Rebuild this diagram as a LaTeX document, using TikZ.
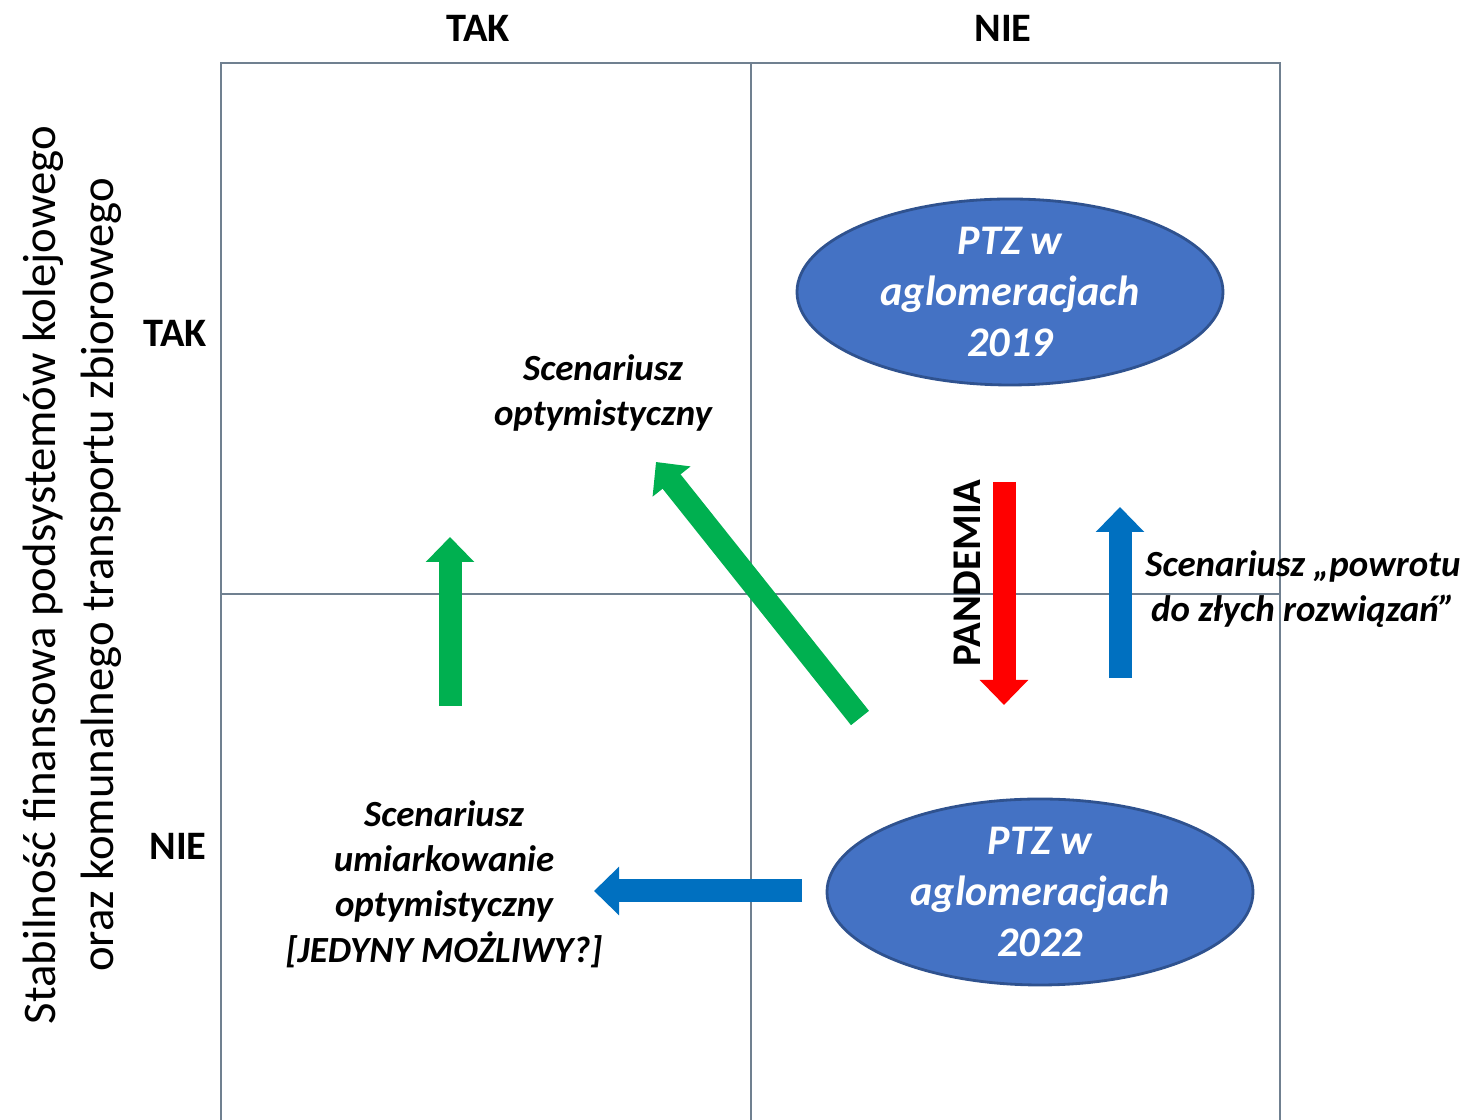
\documentclass[tikz,border=0pt]{standalone}
\usepackage{fontspec}
\setmainfont{Carlito}
\usepackage{tikz}
\usetikzlibrary{arrows.meta,shapes,positioning}
\definecolor{ptzblue}{RGB}{68,114,196}
\definecolor{ptzedge}{RGB}{47,82,143}
\definecolor{scgreen}{RGB}{0,176,80}
\definecolor{scblue}{RGB}{0,112,192}
\definecolor{scred}{RGB}{255,0,0}
\definecolor{gridgray}{RGB}{112,128,144}
\tikzstyle{gridline} = [draw=gridgray, line width=0.7pt]
\tikzstyle{ptz} = [ellipse, inner sep=0pt, minimum width=4.26cm, minimum height=1.86cm, fill=ptzblue, draw=ptzedge, thick]
\tikzstyle{ptztext} = [text=white, align=center, font=\fontsize{12}{14.5}\selectfont\bfseries\itshape]
\tikzstyle{blockarrow} = [line width=0.23cm, -{Triangle[length=0.25cm, width=0.47cm]}]
\tikzstyle{scenario} = [align=center, font=\fontsize{10.5}{12.9}\selectfont\bfseries\itshape]
\tikzstyle{answer} = [font=\fontsize{11.5}{14}\selectfont\bfseries]

\begin{document}
\begin{tikzpicture}
\useasboundingbox (0,0) rectangle (14.68,11.2);

% Grid
\draw[gridline] (2.21,0) -- (2.21,10.57) -- (12.80,10.57) -- (12.80,0);
\draw[gridline] (7.51,0) -- (7.51,10.57);
\draw[gridline] (2.21,5.26) -- (12.80,5.26);

% Axis answers
\node[answer] (coltak) at (4.78,10.92) {TAK};
\node[answer] (colnie) at (10.03,10.92) {NIE};
\node[answer] (rowtak) at (1.75,7.87) {TAK};
\node[answer] (rownie) at (1.78,2.74) {NIE};
\node[rotate=90, align=center, font=\fontsize{13.3}{16.4}\selectfont] (ylabel) at (0.72,5.45) {Stabilność finansowa podsystemów kolejowego\\oraz komunalnego transportu zbiorowego};

% PTZ states
\node[ptz] (ptz19) at (10.10,8.28) {};
\node[ptztext] at (ptz19) {PTZ w\\aglomeracjach\\2019};
\node[ptz] (ptz22) at (10.40,2.28) {};
\node[ptztext] at (ptz22) {PTZ w\\aglomeracjach\\2022};

% Scenarios
\node[scenario] (optym) at (6.03,7.27) {Scenariusz\\optymistyczny};
\node[scenario] (umiar) at (4.44,2.36) {Scenariusz\\umiarkowanie\\optymistyczny\\{}[JEDYNY MOŻLIWY?]};
\node[scenario] (powrot) at (13.03,5.31) {Scenariusz „powrotu\\do złych rozwiązań”};

% Arrows
\coordinate (gtail) at (4.50,4.14);
\coordinate (ghead) at (4.50,5.83);
\draw[blockarrow, scgreen] (gtail) -- (ghead);

\coordinate (dtail) at (8.60,4.02);
\coordinate (dhead) at (6.56,6.58);
\draw[blockarrow, scgreen] (dtail) -- (dhead);

\coordinate (rtail) at (10.04,6.38);
\coordinate (rhead) at (10.04,4.15);
\draw[blockarrow, scred] (rtail) -- (rhead);
\node[rotate=90, answer, font=\fontsize{11.6}{14}\selectfont\bfseries] (pandemia) at (9.67,5.47) {PANDEMIA};

\coordinate (btail) at (11.20,4.42);
\coordinate (bhead) at (11.20,6.13);
\draw[blockarrow, scblue] (btail) -- (bhead);

\coordinate (ltail) at (8.02,2.29);
\coordinate (lhead) at (5.94,2.29);
\draw[blockarrow, scblue] (ltail) -- (lhead);
\end{tikzpicture}
\end{document}
